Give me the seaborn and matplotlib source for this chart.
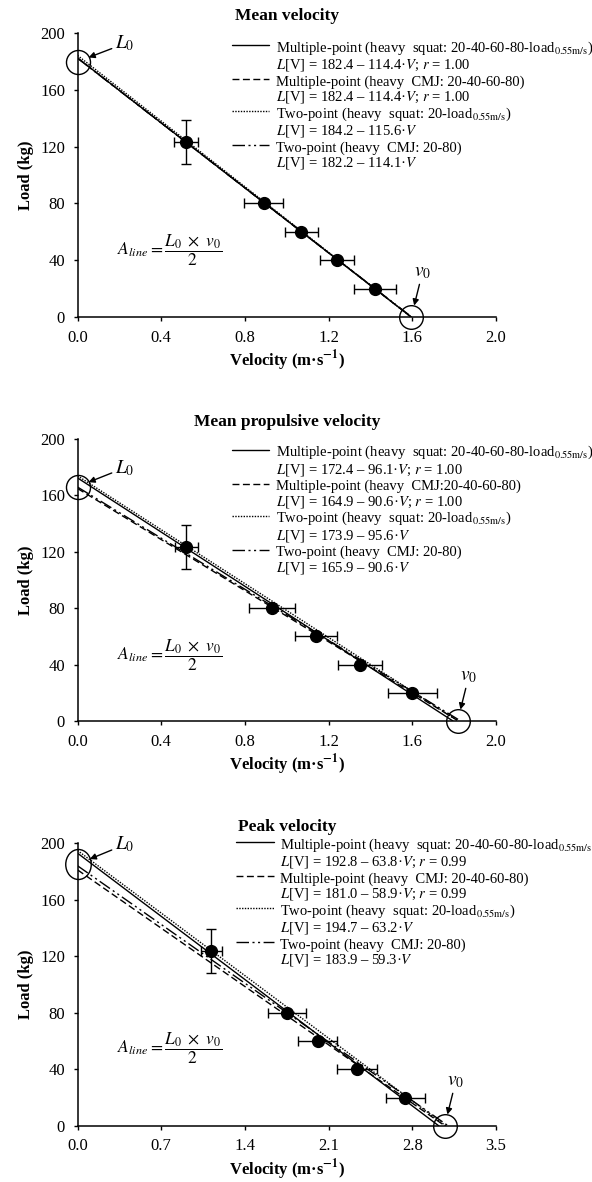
import matplotlib.pyplot as plt
import numpy as np
import pandas as pd
import seaborn as sns
from matplotlib.lines import Line2D
from matplotlib.path import Path
from matplotlib.transforms import Affine2D


# load (kg) at each point; only the heavy load differs between subjects
load = [123.5, 80, 60, 40, 20]
load_sd = [15.5, 0, 0, 0, 0]

# velocities (m/s), mean and SD
mv = [0.52, 0.89, 1.07, 1.24, 1.42]
mv_sd = [0.057, 0.093, 0.078, 0.081, 0.10]
mpv = [0.52, 0.93, 1.14, 1.35, 1.60]
mpv_sd = [0.056, 0.109, 0.100, 0.104, 0.116]
pv = [1.12, 1.75, 2.01, 2.34, 2.74]
pv_sd = [0.09, 0.16, 0.163, 0.167, 0.163]

# L[V] = L0 - slope * V for the four fitting methods
mv_L0 = [182.4, 182.4, 184.2, 182.2]
mv_slope = [114.4, 114.4, 115.6, 114.1]
mv_r = [1.00, 1.00, None, None]
mpv_L0 = [172.4, 164.9, 173.9, 165.9]
mpv_slope = [96.1, 90.6, 95.6, 90.6]
mpv_r = [1.00, 1.00, None, None]
pv_L0 = [192.8, 181.0, 194.7, 183.9]
pv_slope = [63.8, 58.9, 63.2, 59.3]
pv_r = [0.99, 0.99, None, None]

sub = r"$_{\mathrm{0.55m/s}}$"
fit_names = ["Multiple-point (heavy  squat: 20-40-60-80-load" + sub + ")",
             "Multiple-point (heavy  CMJ: 20-40-60-80)",
             "Two-point (heavy  squat: 20-load" + sub + ")",
             "Two-point (heavy  CMJ: 20-80)"]
mpv_fit_names = fit_names[:1] + ["Multiple-point (heavy  CMJ:20-40-60-80)"] + fit_names[2:]

titles = ["Mean velocity", "Mean propulsive velocity", "Peak velocity"]
x_max = [2.0, 2.0, 3.5]

dash_specs = ["", (5, 2.5), (1, 1), (9, 2.5, 1.5, 2.5, 1.5, 2.5)]

sns.set_theme(style="ticks")
plt.rcParams.update({
    "font.family": ["Liberation Serif", "DejaVu Serif"],
    "mathtext.fontset": "stix",
    "axes.edgecolor": "black",
    "axes.linewidth": 1.1,
    "xtick.color": "black",
    "ytick.color": "black",
    "xtick.major.size": 3,
    "ytick.major.size": 3,
    "xtick.major.width": 1,
    "ytick.major.width": 1,
    "xtick.major.pad": 6,
    "ytick.major.pad": 6,
    "xtick.labelsize": 12,
    "ytick.labelsize": 12,
    "text.color": "black",
    "axes.labelcolor": "black",
})

fig = plt.figure(figsize=(5.92, 11.82), dpi=100)
rects = [[0.131, 0.7318, 0.707, 0.2403],
         [0.131, 0.3900, 0.707, 0.2386],
         [0.131, 0.0474, 0.707, 0.2394]]

panels = [
    (mv, mv_sd, mv_L0, mv_slope, mv_r, fit_names),
    (mpv, mpv_sd, mpv_L0, mpv_slope, mpv_r, mpv_fit_names),
    (pv, pv_sd, pv_L0, pv_slope, pv_r, fit_names),
]
legend_anchor = [(0.368, 0.978), (0.368, 0.982), (0.378, 1.024)]
formula_y = [0.236, 0.234, 0.276]
ellipse = Path.unit_circle().transformed(Affine2D().scale(0.85, 1.0))
l0_marker = [("o", 17.3), ("o", 17.3), (ellipse, 21.6)]
l0_text = [(34, 13), (34, 13.5), (34, 14)]
l0_shrink = [8.5, 8.5, 9.5]

L0_lab = r"$L_{\mathit{0}}$"
v0_lab = r"$v_{\mathit{0}}$"
area = r"$A_{line} = \dfrac{L_{\mathit{0}}\ \times\ v_{\mathit{0}}}{2}$"

for i, (vel, vel_sd, L0, slope, r, names) in enumerate(panels):
    ax = fig.add_axes(rects[i])

    rows = []
    for name, a, b in zip(names, L0, slope):
        for v in (0.0, a / b):
            rows.append({"fit": name, "V": v, "L": a - b * v})
    fits = pd.DataFrame(rows)
    sns.lineplot(data=fits, x="V", y="L", style="fit", style_order=names,
                 dashes=dict(zip(names, dash_specs)), color="black", lw=1.0,
                 estimator=None, sort=False, legend=False, ax=ax)

    ax.errorbar(vel, load, xerr=vel_sd, yerr=load_sd, fmt="o", color="black",
                ms=8.5, elinewidth=1, capsize=3.5, capthick=1, zorder=4)

    # L0 and v0 markers
    mk, ms = l0_marker[i]
    L0_c = np.mean(L0) - 3
    v0_c = np.mean(np.divide(L0, slope))
    ax.plot([0], [L0_c], marker=mk, ms=ms, mfc="none", mec="black", mew=1,
            ls="none", clip_on=False, zorder=5)
    ax.plot([v0_c], [0], marker="o", ms=17, mfc="none", mec="black", mew=1,
            ls="none", clip_on=False, zorder=5)
    ax.annotate(L0_lab, xy=(0, L0_c), xytext=l0_text[i], textcoords="offset points",
                ha="center", va="center", fontsize=14,
                arrowprops=dict(arrowstyle="-|>", color="black", lw=1,
                                mutation_scale=9, shrinkA=0, shrinkB=l0_shrink[i]))
    ax.annotate(v0_lab, xy=(v0_c, 0), xytext=(8, 32), textcoords="offset points",
                ha="center", va="center", fontsize=14,
                arrowprops=dict(arrowstyle="-|>", color="black", lw=1,
                                mutation_scale=9, shrinkA=0, shrinkB=8.5))

    ax.text(0.22, formula_y[i], area, transform=ax.transAxes,
            ha="center", va="center", fontsize=12.5)

    # legend: one handle per fit, equation on the line below
    handles, labels = [], []
    for name, dash, a, b, rr in zip(names, dash_specs, L0, slope, r):
        ls = "-" if dash == "" else (0, dash)
        handles.append(Line2D([], [], color="black", lw=1.0, ls=ls))
        labels.append(name)
        eq = f"$L$[V] = {a:.1f} – {b:.1f}·$V$"
        if rr is not None:
            eq += f"; $r$ = {rr:.2f}"
        handles.append(Line2D([], [], lw=0))
        labels.append(eq)
    ax.legend(handles, labels, loc="upper left", bbox_to_anchor=legend_anchor[i],
              frameon=False, fontsize=10.5, borderpad=0, borderaxespad=0,
              handlelength=2.6, handletextpad=0.45, handleheight=1.15,
              labelspacing=0.0)

    ax.set_xlim(0, x_max[i])
    ax.set_ylim(0, 200)
    ax.set_xticks(np.round(np.linspace(0, x_max[i], 6), 2))
    ax.set_xticklabels([f"{t:.1f}" for t in np.linspace(0, x_max[i], 6)])
    ax.set_yticks(np.arange(0, 201, 40))
    ax.set_title(titles[i], fontsize=12.5, fontweight="bold", pad=9)
    ax.set_xlabel(r"Velocity (m·s$^{\mathbf{-1}}$)", fontsize=12, fontweight="bold", labelpad=2)
    ax.set_ylabel("Load (kg)", fontsize=12, fontweight="bold", labelpad=4)
    sns.despine(ax=ax)

fig.savefig("out.png", dpi=100, facecolor="white")
